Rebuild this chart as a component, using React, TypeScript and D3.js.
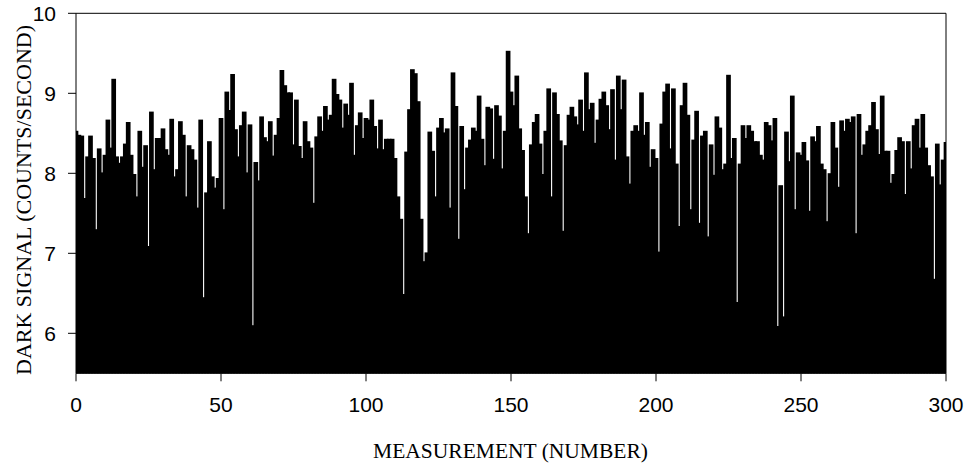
import React from "react";
import * as d3 from "d3";

const darkSignal: number[] = [
  8.52, 8.47, 8.46, 7.68, 8.20, 8.46, 8.18, 7.29, 8.30, 8.00,
  8.22, 8.66, 8.31, 9.17, 8.20, 8.12, 8.20, 8.36, 8.63, 8.22,
  7.98, 7.70, 8.52, 8.07, 8.34, 7.08, 8.76, 8.04, 8.43, 8.43,
  8.55, 8.29, 8.22, 8.67, 7.95, 8.04, 8.64, 8.47, 7.70, 8.34,
  8.29, 8.16, 7.56, 8.66, 6.44, 7.75, 8.39, 7.95, 7.81, 7.93,
  8.68, 7.54, 9.01, 8.78, 9.23, 8.54, 8.20, 8.59, 8.76, 8.00,
  8.60, 6.09, 8.13, 7.90, 8.70, 8.44, 8.39, 8.64, 8.21, 8.47,
  8.68, 9.28, 9.09, 9.00, 9.00, 8.35, 8.91, 8.33, 8.18, 8.64,
  8.39, 8.31, 7.62, 8.45, 8.70, 8.52, 8.83, 8.66, 8.72, 9.17,
  8.98, 8.91, 8.56, 8.86, 8.72, 9.12, 8.22, 8.59, 8.75, 8.43,
  8.68, 8.66, 8.91, 8.58, 8.30, 8.66, 8.29, 8.42, 8.42, 8.42,
  8.18, 7.70, 7.42, 6.48, 8.26, 8.79, 9.29, 9.24, 8.89, 7.42,
  6.89, 7.00, 8.51, 8.27, 7.70, 8.56, 8.68, 8.50, 8.55, 7.56,
  9.25, 8.83, 7.17, 8.58, 7.79, 8.31, 8.41, 8.56, 8.52, 8.96,
  8.42, 8.09, 8.82, 8.80, 8.17, 8.84, 8.71, 8.05, 8.52, 9.52,
  9.01, 8.84, 9.21, 8.55, 8.28, 7.70, 7.24, 8.35, 8.63, 8.73,
  8.36, 7.98, 8.52, 9.05, 7.70, 9.00, 8.73, 8.40, 7.27, 8.34,
  8.72, 8.82, 8.70, 8.60, 8.91, 8.52, 9.25, 8.79, 8.87, 8.37,
  8.66, 8.92, 9.01, 8.84, 8.54, 9.04, 8.16, 9.21, 8.79, 9.16,
  8.20, 7.86, 8.52, 8.59, 8.52, 9.00, 8.47, 8.63, 8.07, 8.29,
  8.18, 7.01, 8.61, 9.01, 9.11, 8.30, 9.05, 8.11, 7.33, 8.84,
  9.12, 8.72, 7.54, 8.41, 8.77, 7.37, 8.46, 8.52, 7.20, 8.35,
  7.97, 8.70, 8.56, 8.04, 8.11, 9.22, 8.18, 8.43, 6.38, 8.11,
  8.59, 8.43, 8.59, 8.52, 8.39, 8.39, 8.22, 8.16, 8.63, 8.59,
  8.40, 8.68, 6.08, 7.84, 6.20, 8.51, 8.14, 8.96, 7.54, 8.25,
  8.22, 8.38, 8.15, 7.52, 8.45, 8.39, 8.58, 8.11, 8.04, 7.39,
  7.99, 8.63, 8.31, 7.82, 8.65, 8.52, 8.67, 8.63, 8.70, 7.24,
  8.73, 8.22, 8.35, 8.52, 8.59, 8.88, 8.54, 8.23, 8.96, 8.27,
  8.27, 7.87, 7.98, 8.28, 8.44, 8.39, 7.73, 8.39, 8.05, 8.59,
  8.67, 8.31, 8.73, 8.31, 8.09, 7.95, 6.67, 8.36, 7.85, 8.16,
  8.38,
];

const xTicks: number[] = [0, 50, 100, 150, 200, 250, 300];
const yTicks: number[] = [6, 7, 8, 9, 10];
const xDomain: [number, number] = [0, 300];
const yDomain: [number, number] = [5.5, 10];
const xTitle = "MEASUREMENT (NUMBER)";
const yTitle = "DARK SIGNAL (COUNTS/SECOND)";

const W = 966;
const H = 463;
const left = 76;
const right = 946;
const top = 13.3;
const bottom = 373.3;

export default function App() {
  const x = d3.scaleLinear().domain(xDomain).range([left, right]);
  const y = d3.scaleLinear().domain(yDomain).range([bottom, top]);
  const sans = "'Liberation Sans', Arial, sans-serif";
  const serif = "'Liberation Serif', 'Times New Roman', serif";

  return (
    <svg
      width={W}
      height={H}
      style={{ position: "absolute", left: 0, top: 0, background: "#fff" }}
    >
      <defs>
        <clipPath id="plotClip">
          <rect x={left} y={0} width={right - left} height={bottom} />
        </clipPath>
      </defs>
      <g clipPath="url(#plotClip)">
        {darkSignal.map((v, i) => {
          const x0 = x(i - 0.5);
          const x1 = x(i + 0.5);
          return (
            <rect
              key={i}
              x={x0}
              y={y(v)}
              width={x1 - x0}
              height={y(yDomain[0]) - y(v)}
              fill="#000"
              stroke="#000"
              strokeWidth={1.8}
            />
          );
        })}
      </g>
      {/* frame */}
      <line x1={left} x2={right} y1={top} y2={top} stroke="#000" strokeWidth={1} />
      <line x1={right} x2={right} y1={top} y2={bottom} stroke="#000" strokeWidth={1} />
      <line x1={left} x2={left} y1={top} y2={bottom} stroke="#000" strokeWidth={1} />
      <line x1={left} x2={right} y1={bottom} y2={bottom} stroke="#000" strokeWidth={1} />
      {/* y ticks */}
      {yTicks.map((t) => (
        <g key={"y" + t}>
          <line x1={left - 8} x2={left} y1={y(t)} y2={y(t)} stroke="#000" strokeWidth={1} />
          <text
            x={56}
            y={y(t)}
            dy="0.38em"
            textAnchor="end"
            fontFamily={sans}
            fontSize={21}
            fill="#000"
          >
            {t}
          </text>
        </g>
      ))}
      {/* x ticks */}
      {xTicks.map((t) => (
        <g key={"x" + t}>
          <line x1={x(t)} x2={x(t)} y1={bottom} y2={bottom + 8} stroke="#000" strokeWidth={1} />
          <text
            x={x(t)}
            y={412}
            textAnchor="middle"
            fontFamily={sans}
            fontSize={21}
            fill="#000"
          >
            {t}
          </text>
        </g>
      ))}
      <text
        x={510.5}
        y={458}
        textAnchor="middle"
        fontFamily={serif}
        fontSize={21.5}
        fill="#000"
      >
        {xTitle}
      </text>
      <text
        transform={`translate(31, 200) rotate(-90)`}
        textAnchor="middle"
        fontFamily={serif}
        fontSize={22}
        fill="#000"
      >
        {yTitle}
      </text>
    </svg>
  );
}
